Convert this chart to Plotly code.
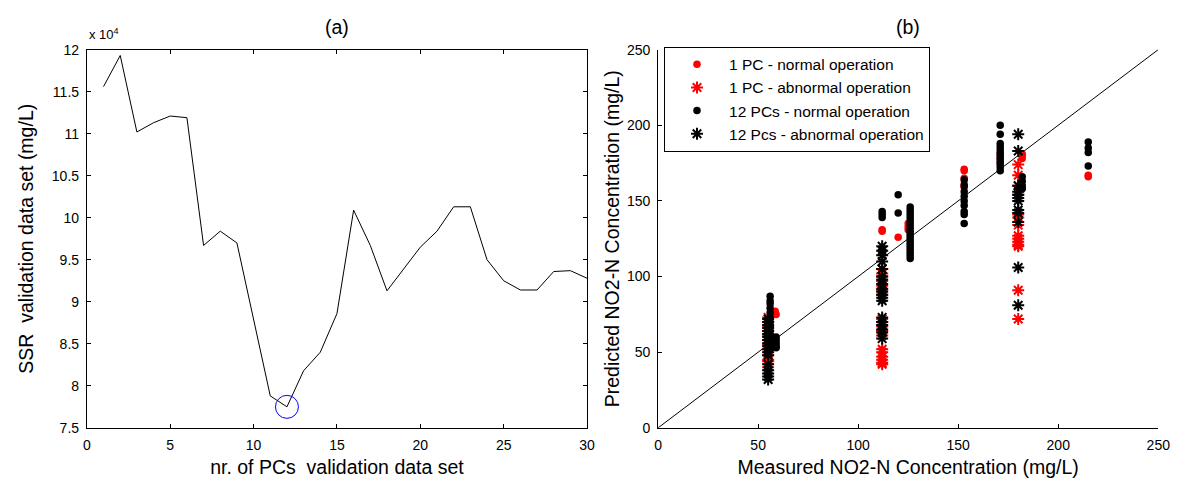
import plotly.graph_objects as go

# ---------------- Panel (a) data ----------------
n_pcs = list(range(1, 31))
ssr_e4 = [11.56, 11.93, 11.02, 11.13, 11.21, 11.19, 9.67, 9.84, 9.70, 8.80,
          7.88, 7.75, 8.18, 8.40, 8.86, 10.09, 9.67, 9.13, 9.39, 9.65,
          9.84, 10.13, 10.13, 9.50, 9.25, 9.14, 9.14, 9.36, 9.37, 9.28]
best_pc = [12]
best_ssr = [7.75]

# ---------------- Panel (b) data ----------------
pc1_norm_x = [58.5, 58.5, 59, 112, 112, 120, 125, 125, 125, 153, 153, 153, 153, 153,
              171, 171, 171, 182, 182, 182, 215, 215]
pc1_norm_y = [77, 76, 75, 131, 130, 126, 135, 133, 131, 171, 170, 165, 161, 159,
              181, 178, 175, 181, 180, 178, 167, 166]

pc1_abn_x = [55] * 12 + [112] * 18 + [180] * 14
pc1_abn_y = [73, 70, 67, 64, 61, 58, 55, 52, 48, 45, 44, 40,
             105, 102, 100, 97, 94, 91, 88, 72, 70, 67, 64, 61, 52, 50, 47, 45, 43, 42,
             174, 167, 160, 154, 141, 139, 134, 127, 125, 123, 121, 120, 91, 72]

pc12_norm_x = ([56] * 13 + [59] * 5 + [112] * 3 + [120] * 2 + [126] * 18 +
               [153] * 9 + [171] * 12 + [182] * 4 + [215] * 4)
pc12_norm_y = [87, 84, 82, 79, 76, 73, 70, 67, 64, 61, 58, 55, 52,
               60, 58, 56, 54, 53,
               143, 141, 139,
               154, 142,
               146, 144, 142, 140, 138, 136, 134, 132, 130, 128, 126, 124, 122, 120, 118, 116, 114, 112,
               164, 160, 156, 153, 150, 147, 143, 141, 135,
               200, 194, 188, 186, 184, 182, 180, 178, 176, 174, 172, 170,
               166, 163, 160, 158,
               189, 185, 182, 173]

pc12_abn_x = [55] * 18 + [112] * 19 + [180] * 12
pc12_abn_y = [72, 70, 68, 66, 64, 62, 60, 58, 56, 54, 52, 50, 48, 42, 38, 36, 34, 32,
              120, 117, 114, 110, 105, 100, 98, 95, 92, 90, 88, 86, 84, 73, 70, 68, 65, 63, 59,
              194, 183, 160, 156, 154, 152, 150, 144, 142, 136, 106, 81]

diag_x = [0, 250]
diag_y = [0, 250]

FONT = "Liberation Sans, Arial, sans-serif"

fig = go.Figure()

# Panel (a)
fig.add_trace(go.Scatter(x=n_pcs, y=ssr_e4, mode="lines",
                         line=dict(color="black", width=1),
                         xaxis="x", yaxis="y", showlegend=False))
fig.add_trace(go.Scatter(x=best_pc, y=best_ssr, mode="markers",
                         marker=dict(symbol="circle-open", size=23,
                                     line=dict(color="blue", width=1), color="blue"),
                         xaxis="x", yaxis="y", showlegend=False))

# Panel (b)
fig.add_trace(go.Scatter(x=diag_x, y=diag_y, mode="lines",
                         line=dict(color="black", width=1),
                         xaxis="x2", yaxis="y2", showlegend=False))
fig.add_trace(go.Scatter(x=pc1_norm_x, y=pc1_norm_y, mode="markers",
                         name="1 PC - normal operation", legendgroup="g1",
                         marker=dict(symbol="circle", size=7.5, color="#ff0000"),
                         xaxis="x2", yaxis="y2"))
fig.add_trace(go.Scatter(x=pc1_abn_x, y=pc1_abn_y, mode="markers",
                         name="1 PC - abnormal operation", legendgroup="g2",
                         marker=dict(symbol="asterisk-open", size=10,
                                     line=dict(color="#ff0000", width=2), color="#ff0000"),
                         xaxis="x2", yaxis="y2"))
fig.add_trace(go.Scatter(x=pc12_norm_x, y=pc12_norm_y, mode="markers",
                         name="12 PCs - normal operation", legendgroup="g3",
                         marker=dict(symbol="circle", size=7.5, color="black"),
                         xaxis="x2", yaxis="y2"))
fig.add_trace(go.Scatter(x=pc12_abn_x, y=pc12_abn_y, mode="markers",
                         name="12 Pcs - abnormal operation", legendgroup="g4",
                         marker=dict(symbol="asterisk-open", size=10,
                                     line=dict(color="black", width=2), color="black"),
                         xaxis="x2", yaxis="y2"))

W, H = 1190, 491
L1, R1 = 84 / W, 591 / W
L2, R2 = 663 / W, 1170 / W
B, T = 1 - 434 / H, 1 - 43 / H

axis_common = dict(showgrid=False, zeroline=False, ticks="inside", ticklen=4,
                   tickcolor="black", linecolor="black", linewidth=1,
                   ticklabelstandoff=4,
                   tickfont=dict(family=FONT, size=14, color="black"))
TFONT = dict(family=FONT, size=19.5, color="black")

fig.update_layout(
    width=W, height=H,
    margin=dict(l=0, r=0, t=0, b=0),
    paper_bgcolor="white", plot_bgcolor="white",
    font=dict(family=FONT, color="black", size=14),
    xaxis=dict(domain=[L1, R1], range=[0, 30], dtick=5, mirror="allticks",
               showline=True, anchor="y",
               title=dict(text="nr. of PCs  validation data set", font=TFONT, standoff=8),
               **axis_common),
    yaxis=dict(domain=[B, T], range=[7.5, 12], dtick=0.5, mirror="allticks",
               showline=True, anchor="x",
               title=dict(text="SSR  validation data set (mg/L)", font=TFONT, standoff=12),
               **axis_common),
    xaxis2=dict(domain=[L2, R2], range=[0, 250], dtick=50, showline=True,
                anchor="y2",
                title=dict(text="Measured NO2-N Concentration (mg/L)", font=TFONT, standoff=8),
                **axis_common),
    yaxis2=dict(domain=[B, T], range=[0, 250], dtick=50, showline=True,
                anchor="x2",
                title=dict(text="Predicted NO2-N Concentration (mg/L)", font=TFONT, standoff=2),
                **axis_common),
    legend=dict(x=669 / W, y=1 - 40 / H, xanchor="left", yanchor="top",
                bordercolor="black", borderwidth=1, bgcolor="white",
                font=dict(family=FONT, size=15.5, color="black"),
                tracegroupgap=0, itemsizing="trace", itemwidth=54),
    annotations=[
        dict(text="(a)", x=(L1 + R1) / 2, y=1 - 20 / H, xref="paper", yref="paper",
             xanchor="center", yanchor="middle", showarrow=False, font=TFONT),
        dict(text="(b)", x=(L2 + R2) / 2, y=1 - 20 / H, xref="paper", yref="paper",
             xanchor="center", yanchor="middle", showarrow=False, font=TFONT),
        dict(text="x 10<sup>4</sup>", x=L1, y=1 - 37 / H, xref="paper", yref="paper",
             xanchor="left", yanchor="bottom", showarrow=False,
             font=dict(family=FONT, size=13, color="black")),
    ],
)

fig.write_html("out.html")
